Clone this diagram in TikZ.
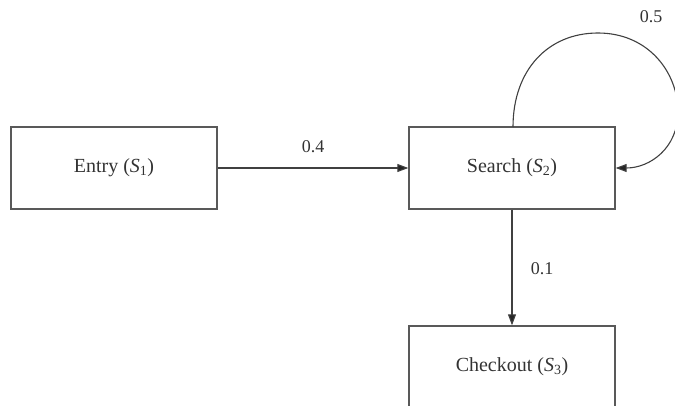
\documentclass[tikz,border=0pt]{standalone}
\usepackage{fontspec}
\setmainfont{Liberation Serif}
\usetikzlibrary{arrows.meta}
\begin{document}
\begin{tikzpicture}[x=1pt,y=-1pt,
  statebox/.style={draw=black!65,line width=1.4pt,minimum width=206pt,minimum height=82pt,inner sep=0pt,font=\fontsize{20}{23}\selectfont,text=black!80},
  link/.style={draw=black!75,line width=1.1pt,-{Triangle[length=11pt,width=8pt,fill=black!85]}},
  prob/.style={font=\fontsize{18}{21}\selectfont,text=black!80}]
\useasboundingbox (0,0) rectangle (675,406);
\clip (0,0) rectangle (675,406);
\node[statebox] (entry) at (114,168) {Entry (\textit{S}\textsubscript{1})};
\node[statebox] (search) at (512,168) {Search (\textit{S}\textsubscript{2})};
\node[statebox] (checkout) at (512,367) {Checkout (\textit{S}\textsubscript{3})};
\draw[link] (entry.east) -- (search.west);
\node[prob] (p4) at (313,147) {0.4};
\draw[link] (search.south) -- (checkout.north);
\node[prob] (p1) at (542,269) {0.1};
\coordinate (loopa) at (513,127);
\draw[link] (loopa) .. controls (513,70) and (548,33) .. (598,33)
  .. controls (648,33) and (678,72) .. (678,112)
  .. controls (678,148) and (650,168) .. (search.east);
\node[prob] (p5) at (651,17) {0.5};
\end{tikzpicture}
\end{document}
